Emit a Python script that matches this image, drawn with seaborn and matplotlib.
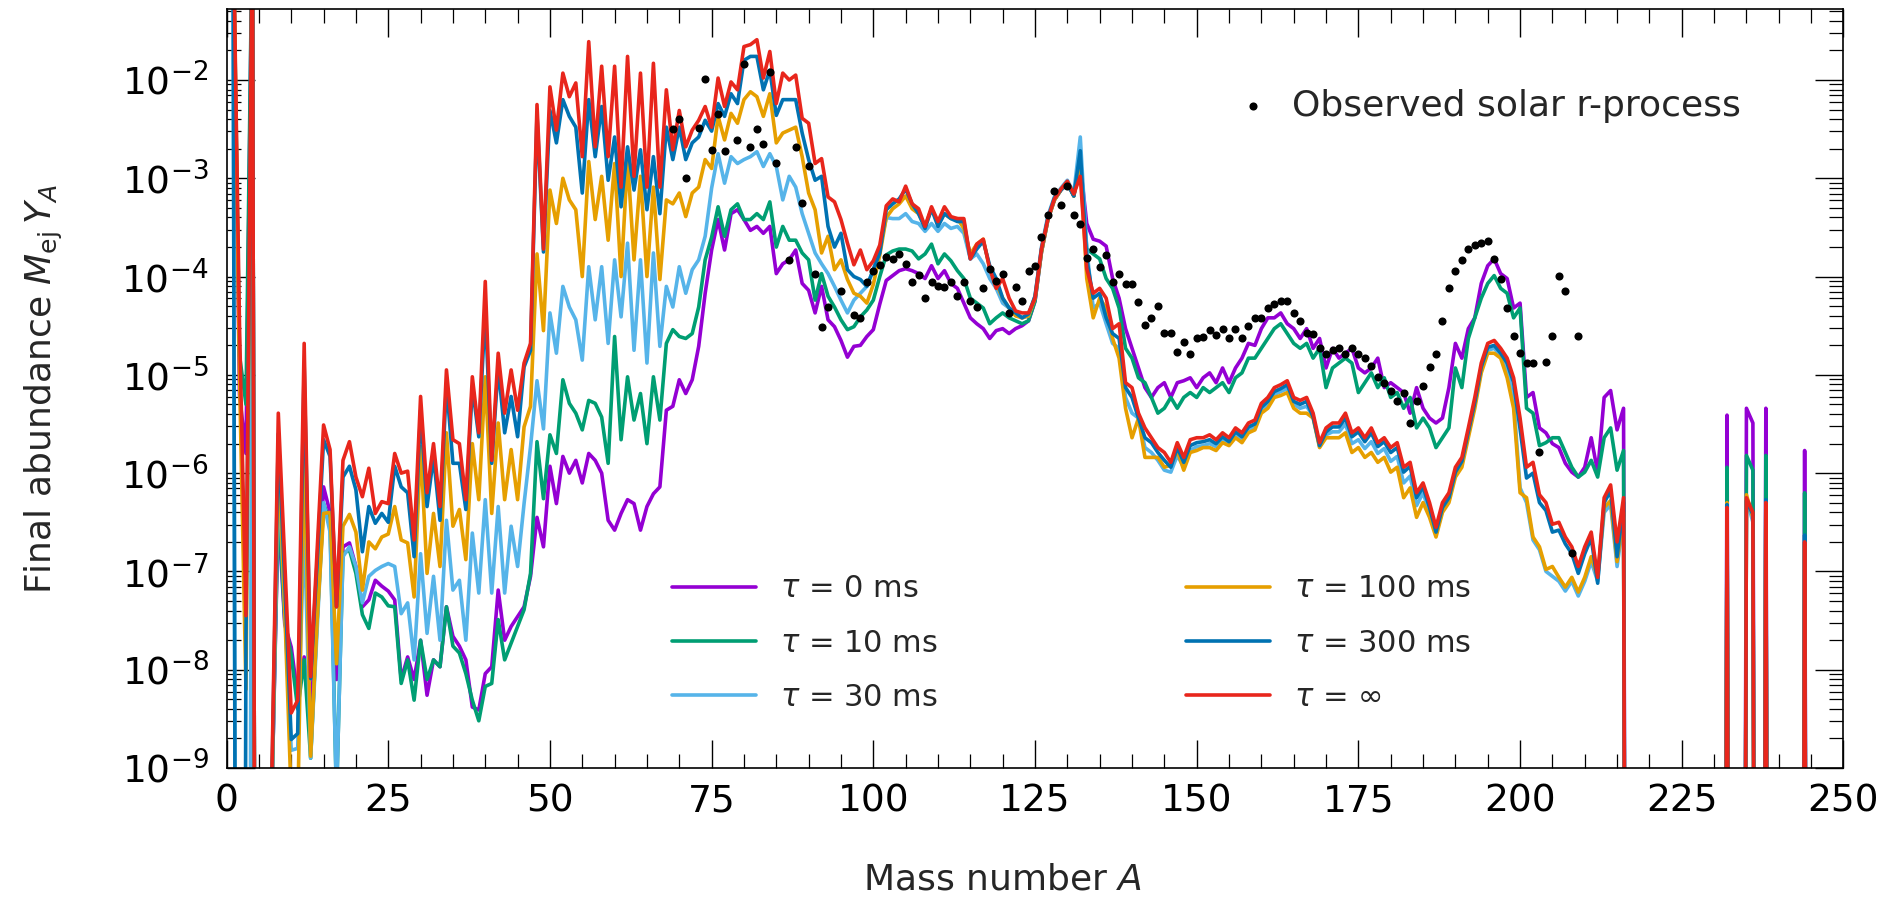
import numpy as np
import pandas as pd
import seaborn as sns
import matplotlib
matplotlib.use("Agg")
import matplotlib.pyplot as plt
from matplotlib.ticker import MultipleLocator, LogLocator, NullFormatter

# mass numbers A = 1..246
mass = np.arange(1, 247)

# log10 of final abundance per A
# (-30 = far below the plotted range, the line just drops out)
log_tau_0 = [
    -0.3, -5.2, -5.8, -0.3, -30, -30, -9.3, -6.4, -7.54, -7.77,
    -8.27, -7.87, -8.5, -7.4, -6.14, -6.40, -8.10, -6.75, -6.71, -6.95,
    -7.36, -7.29, -7.09, -7.15, -7.20, -7.29, -8.10, -7.87, -8.10, -7.70,
    -8.26, -7.90, -7.97, -7.36, -7.66, -7.76, -7.90, -8.38, -8.41, -8.04,
    -7.97, -7.19, -7.70, -7.56, -7.46, -7.36, -7.05, -6.45, -6.75, -5.93,
    -6.31, -5.83, -6.00, -5.87, -6.10, -5.80, -5.87, -6.00, -6.48, -6.58,
    -6.41, -6.27, -6.31, -6.58, -6.34, -6.21, -6.14, -5.36, -5.32, -5.05,
    -5.19, -5.05, -4.71, -4.17, -3.73, -3.42, -3.73, -3.36, -3.32, -3.42,
    -3.53, -3.49, -3.56, -3.49, -3.97, -3.87, -3.83, -3.73, -4.07, -4.14,
    -4.37, -4.10, -4.44, -4.51, -4.65, -4.82, -4.71, -4.70, -4.61, -4.54,
    -4.28, -4.04, -3.99, -3.94, -3.92, -3.94, -3.97, -4.02, -3.89, -4.02,
    -3.94, -4.07, -4.12, -4.27, -4.42, -4.48, -4.53, -4.63, -4.55, -4.53,
    -4.58, -4.53, -4.50, -4.45, -4.25, -3.75, -3.42, -3.22, -3.12, -3.05,
    -3.18, -2.86, -3.46, -3.62, -3.64, -3.69, -4.02, -4.22, -4.53, -4.73,
    -4.93, -5.13, -5.23, -5.13, -5.08, -5.23, -5.08, -5.06, -5.03, -5.13,
    -5.03, -4.98, -5.08, -4.93, -5.08, -4.93, -4.83, -4.68, -4.70, -4.53,
    -4.42, -4.42, -4.37, -4.48, -4.53, -4.63, -4.53, -4.73, -4.63, -4.93,
    -4.73, -4.83, -4.78, -4.73, -4.93, -4.98, -4.93, -4.83, -5.13, -5.08,
    -5.13, -5.18, -5.39, -5.13, -5.34, -5.44, -5.49, -5.44, -5.13, -4.68,
    -4.83, -4.53, -4.42, -4.07, -3.89, -3.82, -3.97, -4.02, -4.32, -4.27,
    -5.23, -5.18, -5.54, -5.59, -5.70, -5.74, -5.90, -5.99, -6.04, -5.94,
    -5.64, -5.99, -5.23, -5.16, -5.56, -5.34, -30, -30, -30, -30,
    -30, -30, -30, -30, -30, -30, -30, -30, -30, -30,
    -30, -5.41, -30, -30, -5.34, -5.49, -30, -5.34, -30, -30,
    -30, -30, -30, -5.77, -30, -30,
]
log_tau_10 = [
    -0.3, -4.8, -5.3, -0.3, -30, -30, -9.3, -6.3, -7.5, -7.85,
    -8.40, -7.90, -8.9, -7.5, -6.31, -6.50, -9.3, -6.82, -6.78, -7.02,
    -7.44, -7.58, -7.22, -7.26, -7.35, -7.36, -8.14, -7.90, -8.31, -7.70,
    -8.10, -7.90, -7.97, -7.36, -7.76, -7.83, -8.04, -8.31, -8.52, -8.17,
    -8.14, -7.49, -7.90, -7.73, -7.56, -7.39, -7.02, -5.68, -6.26, -5.61,
    -5.80, -5.05, -5.29, -5.39, -5.56, -5.26, -5.29, -5.43, -5.90, -4.61,
    -5.66, -5.02, -5.46, -5.19, -5.70, -5.02, -5.46, -4.68, -4.54, -4.61,
    -4.63, -4.58, -4.31, -3.83, -3.60, -3.29, -3.59, -3.32, -3.26, -3.42,
    -3.42, -3.36, -3.42, -3.24, -3.70, -3.49, -3.63, -3.63, -3.76, -3.83,
    -4.24, -3.97, -4.20, -4.31, -4.44, -4.54, -4.51, -4.41, -4.34, -4.24,
    -4.00, -3.78, -3.74, -3.72, -3.72, -3.74, -3.82, -3.77, -3.67, -3.87,
    -3.77, -3.84, -3.94, -4.02, -4.22, -4.27, -4.32, -4.48, -4.42, -4.37,
    -4.42, -4.45, -4.48, -4.45, -4.25, -3.75, -3.42, -3.22, -3.12, -3.05,
    -3.18, -2.80, -3.72, -3.77, -3.82, -4.02, -4.12, -4.32, -4.73, -4.83,
    -5.03, -5.08, -5.23, -5.39, -5.34, -5.23, -5.34, -5.23, -5.18, -5.23,
    -5.13, -5.18, -5.13, -5.08, -5.18, -5.03, -4.98, -4.83, -4.83, -4.73,
    -4.63, -4.53, -4.48, -4.58, -4.68, -4.73, -4.68, -4.83, -4.73, -5.13,
    -4.93, -4.88, -4.83, -4.88, -5.18, -5.08, -4.98, -5.13, -5.03, -5.23,
    -5.18, -5.34, -5.23, -5.54, -5.44, -5.54, -5.74, -5.64, -5.54, -4.93,
    -5.13, -4.63, -4.42, -4.22, -4.07, -3.99, -4.12, -4.17, -4.42, -4.32,
    -5.34, -5.39, -5.72, -5.69, -5.64, -5.64, -5.79, -5.94, -6.04, -5.99,
    -5.87, -6.04, -5.64, -5.54, -5.97, -5.77, -30, -30, -30, -30,
    -30, -30, -30, -30, -30, -30, -30, -30, -30, -30,
    -30, -5.94, -30, -30, -5.82, -5.97, -30, -5.82, -30, -30,
    -30, -30, -30, -6.20, -30, -30,
]
log_tau_30 = [
    -0.3, -30, -30, -0.3, -30, -30, -9.4, -6.0, -7.4, -8.82,
    -8.80, -6.5, -8.9, -7.6, -6.30, -6.60, -9.3, -6.85, -6.75, -6.95,
    -7.32, -7.05, -6.99, -6.95, -6.92, -6.95, -7.43, -7.32, -7.90, -6.82,
    -7.63, -7.05, -7.70, -6.48, -7.19, -7.09, -7.70, -6.61, -7.22, -6.27,
    -7.22, -6.34, -7.22, -6.54, -6.95, -6.31, -5.73, -5.06, -5.55, -4.37,
    -4.78, -4.10, -4.31, -4.44, -4.85, -3.90, -4.44, -3.90, -4.68, -3.83,
    -4.41, -3.66, -4.75, -3.83, -4.88, -3.76, -4.71, -4.10, -4.31, -3.90,
    -4.17, -3.93, -3.83, -3.59, -3.10, -2.75, -3.05, -2.78, -2.85, -2.81,
    -2.78, -2.73, -2.88, -2.75, -2.88, -3.22, -2.98, -3.09, -3.36, -3.56,
    -3.76, -3.87, -3.97, -4.10, -4.24, -4.37, -4.24, -4.17, -4.10, -3.93,
    -3.72, -3.40, -3.41, -3.41, -3.36, -3.44, -3.46, -3.54, -3.46, -3.54,
    -3.46, -3.51, -3.49, -3.56, -3.82, -3.77, -3.87, -4.02, -4.12, -4.27,
    -4.32, -4.37, -4.42, -4.40, -4.20, -3.70, -3.38, -3.19, -3.10, -3.02,
    -3.15, -2.58, -3.72, -4.32, -4.27, -4.48, -4.68, -4.73, -5.23, -5.39,
    -5.44, -5.74, -5.79, -5.87, -5.97, -5.99, -5.82, -5.94, -5.77, -5.73,
    -5.72, -5.70, -5.73, -5.66, -5.70, -5.61, -5.66, -5.56, -5.53, -5.36,
    -5.31, -5.20, -5.17, -5.14, -5.30, -5.34, -5.32, -5.42, -5.73, -5.61,
    -5.58, -5.58, -5.50, -5.70, -5.66, -5.75, -5.68, -5.80, -5.75, -5.88,
    -5.83, -6.10, -6.03, -6.33, -6.20, -6.40, -6.62, -6.38, -6.27, -6.00,
    -5.90, -5.60, -5.30, -4.95, -4.75, -4.73, -4.80, -4.95, -5.25, -6.15,
    -6.30, -6.68, -6.78, -7.00, -7.05, -7.10, -7.20, -7.10, -7.25, -7.10,
    -6.90, -7.10, -6.40, -6.32, -6.95, -6.45, -30, -30, -30, -30,
    -30, -30, -30, -30, -30, -30, -30, -30, -30, -30,
    -30, -6.32, -30, -30, -6.25, -6.50, -30, -6.32, -30, -30,
    -30, -30, -30, -6.70, -30, -30,
]
log_tau_100 = [
    -0.3, -5.0, -8.2, -0.3, -30, -30, -9.3, -5.8, -7.4, -9.3,
    -9.5, -5.6, -8.88, -7.5, -6.41, -6.40, -7.94, -6.54, -6.42, -6.60,
    -7.19, -6.70, -6.77, -6.65, -6.62, -6.34, -6.68, -6.71, -7.26, -5.73,
    -7.02, -6.41, -6.95, -5.59, -6.54, -6.37, -6.88, -5.70, -6.27, -5.02,
    -6.41, -5.49, -6.27, -5.76, -6.27, -5.53, -5.32, -3.77, -4.55, -3.12,
    -3.46, -3.00, -3.22, -3.32, -4.00, -2.83, -3.42, -2.98, -3.63, -2.85,
    -4.00, -2.81, -3.83, -2.98, -4.00, -3.09, -4.03, -3.22, -3.26, -3.15,
    -3.39, -3.15, -3.09, -2.81, -2.90, -2.37, -2.61, -2.34, -2.44, -2.20,
    -2.12, -2.17, -2.37, -2.14, -2.64, -2.54, -2.51, -2.48, -2.78, -3.15,
    -3.32, -3.76, -3.59, -3.93, -3.83, -4.03, -4.17, -4.20, -4.27, -4.08,
    -3.78, -3.40, -3.31, -3.26, -3.18, -3.31, -3.36, -3.49, -3.31, -3.46,
    -3.36, -3.41, -3.41, -3.51, -3.77, -3.67, -3.62, -3.92, -4.07, -4.22,
    -4.32, -4.40, -4.42, -4.40, -4.22, -3.75, -3.42, -3.22, -3.12, -3.04,
    -3.18, -2.85, -4.02, -4.42, -4.22, -4.32, -4.63, -4.83, -5.34, -5.64,
    -5.44, -5.84, -5.84, -5.84, -5.94, -5.92, -5.77, -5.97, -5.79, -5.77,
    -5.74, -5.74, -5.77, -5.69, -5.72, -5.64, -5.69, -5.59, -5.56, -5.39,
    -5.34, -5.23, -5.21, -5.18, -5.34, -5.39, -5.39, -5.44, -5.74, -5.64,
    -5.64, -5.64, -5.59, -5.79, -5.74, -5.84, -5.79, -5.89, -5.84, -5.99,
    -5.94, -6.25, -6.15, -6.45, -6.30, -6.45, -6.65, -6.40, -6.30, -6.04,
    -5.94, -5.64, -5.34, -4.98, -4.78, -4.78, -4.83, -5.03, -5.34, -6.20,
    -6.25, -6.65, -6.75, -6.98, -6.95, -7.06, -7.16, -7.06, -7.21, -7.06,
    -6.85, -7.06, -6.35, -6.28, -6.90, -6.40, -30, -30, -30, -30,
    -30, -30, -30, -30, -30, -30, -30, -30, -30, -30,
    -30, -6.30, -30, -30, -6.22, -6.45, -30, -6.32, -30, -30,
    -30, -30, -30, -6.72, -30, -30,
]
log_tau_300 = [
    -0.3, -30, -7.67, -0.3, -30, -30, -9.2, -5.6, -7.1, -8.71,
    -8.65, -4.9, -8.09, -6.9, -5.66, -5.83, -7.36, -6.04, -5.93, -6.17,
    -6.80, -6.34, -6.51, -6.41, -6.50, -5.93, -6.14, -6.20, -6.85, -5.36,
    -6.34, -5.83, -6.48, -5.09, -5.90, -5.90, -6.37, -5.12, -5.63, -4.34,
    -5.90, -4.92, -5.59, -5.22, -5.63, -4.92, -4.75, -2.35, -3.75, -2.31,
    -2.64, -2.20, -2.37, -2.48, -3.15, -2.20, -2.78, -2.27, -3.02, -2.58,
    -3.29, -2.68, -3.12, -2.71, -3.32, -2.78, -3.36, -2.48, -2.81, -2.48,
    -2.81, -2.64, -2.58, -2.41, -2.52, -2.24, -2.37, -2.14, -2.24, -1.80,
    -1.76, -1.76, -2.10, -1.90, -2.36, -2.20, -2.20, -2.20, -2.54, -2.81,
    -3.02, -2.98, -3.49, -3.70, -3.56, -3.93, -4.00, -4.03, -4.10, -3.93,
    -3.76, -3.32, -3.26, -3.21, -3.11, -3.26, -3.36, -3.51, -3.31, -3.49,
    -3.36, -3.41, -3.44, -3.44, -3.82, -3.72, -3.64, -3.89, -4.02, -4.22,
    -4.32, -4.37, -4.42, -4.38, -4.20, -3.72, -3.40, -3.20, -3.12, -3.05,
    -3.18, -2.72, -3.82, -4.22, -4.17, -4.42, -4.58, -4.63, -5.13, -5.23,
    -5.44, -5.64, -5.69, -5.79, -5.87, -5.94, -5.74, -5.89, -5.72, -5.69,
    -5.68, -5.66, -5.70, -5.63, -5.68, -5.58, -5.63, -5.53, -5.50, -5.33,
    -5.27, -5.17, -5.14, -5.10, -5.27, -5.30, -5.27, -5.43, -5.72, -5.58,
    -5.53, -5.53, -5.44, -5.63, -5.58, -5.68, -5.59, -5.73, -5.68, -5.79,
    -5.74, -5.99, -5.93, -6.25, -6.14, -6.35, -6.60, -6.35, -6.25, -5.99,
    -5.88, -5.58, -5.28, -4.92, -4.72, -4.70, -4.78, -4.88, -5.08, -5.55,
    -6.05, -6.00, -6.30, -6.38, -6.60, -6.58, -6.72, -6.82, -7.02, -6.82,
    -6.66, -7.12, -6.30, -6.18, -6.85, -6.30, -30, -30, -30, -30,
    -30, -30, -30, -30, -30, -30, -30, -30, -30, -30,
    -30, -6.32, -30, -30, -6.28, -6.42, -30, -6.27, -30, -30,
    -30, -30, -30, -6.63, -30, -30,
]
log_tau_inf = [
    -0.3, -4.5, -7.45, -0.3, -30, -30, -9.1, -5.39, -6.9, -8.44,
    -8.31, -4.68, -8.07, -6.8, -5.51, -5.76, -7.36, -5.87, -5.68, -6.04,
    -6.24, -5.95, -6.41, -6.29, -6.31, -5.80, -6.00, -5.98, -6.68, -5.22,
    -6.20, -5.70, -6.34, -4.95, -5.66, -5.70, -6.27, -5.02, -5.59, -4.05,
    -5.87, -4.78, -5.39, -4.95, -5.36, -4.88, -4.68, -2.25, -3.72, -2.07,
    -2.51, -1.93, -2.17, -2.03, -2.78, -1.61, -2.68, -1.86, -2.78, -1.86,
    -3.09, -1.76, -2.98, -1.93, -3.09, -1.83, -3.09, -2.10, -2.71, -2.31,
    -2.68, -2.51, -2.41, -2.27, -2.48, -1.98, -2.27, -2.02, -2.10, -1.66,
    -1.64, -1.59, -1.98, -1.71, -2.24, -1.93, -2.00, -1.95, -2.39, -2.44,
    -2.85, -2.80, -3.19, -3.24, -3.42, -3.66, -3.88, -3.73, -3.93, -3.84,
    -3.68, -3.28, -3.21, -3.24, -3.08, -3.26, -3.31, -3.49, -3.29, -3.44,
    -3.29, -3.39, -3.41, -3.41, -3.82, -3.67, -3.62, -3.92, -4.12, -4.02,
    -4.22, -4.35, -4.37, -4.37, -4.22, -3.72, -3.41, -3.21, -3.11, -3.03,
    -3.16, -2.98, -3.92, -4.17, -4.12, -4.22, -4.53, -4.48, -5.08, -5.13,
    -5.39, -5.54, -5.64, -5.74, -5.79, -5.89, -5.69, -5.84, -5.66, -5.64,
    -5.64, -5.61, -5.66, -5.59, -5.64, -5.54, -5.59, -5.49, -5.46, -5.29,
    -5.23, -5.13, -5.10, -5.06, -5.23, -5.26, -5.23, -5.39, -5.69, -5.54,
    -5.49, -5.49, -5.39, -5.59, -5.54, -5.64, -5.54, -5.69, -5.64, -5.74,
    -5.69, -5.94, -5.89, -6.20, -6.10, -6.30, -6.55, -6.30, -6.20, -5.94,
    -5.84, -5.54, -5.23, -4.88, -4.68, -4.65, -4.73, -4.83, -5.03, -5.44,
    -5.94, -5.89, -6.22, -6.30, -6.52, -6.50, -6.65, -6.75, -6.95, -6.75,
    -6.60, -7.06, -6.25, -6.12, -6.70, -6.25, -30, -30, -30, -30,
    -30, -30, -30, -30, -30, -30, -30, -30, -30, -30,
    -30, -6.35, -30, -30, -6.25, -6.40, -30, -6.30, -30, -30,
    -30, -30, -30, -6.70, -30, -30,
]

# observed solar r-process abundances
solar_mass = [69, 70, 71, 73, 74, 75, 76, 77, 79, 80, 81, 82, 83, 84, 85,
              87, 88, 89, 90, 91, 92, 93, 95, 97, 98, 99, 100, 101, 102] + list(range(103, 210))
solar_log = [
    -2.50, -2.40, -3.00, -2.49, -1.99, -2.71, -2.35, -2.72, -2.61, -1.84,
    -2.68, -2.50, -2.65, -1.92, -2.84, -3.83, -2.68, -3.25, -2.88, -3.97,
    -4.51, -4.31, -4.15, -4.39, -4.42, -4.06, -3.94, -3.88, -3.80,
    -3.82, -3.77, -3.87, -4.06, -3.98, -4.22, -4.06, -4.10, -4.11, -4.06,
    -4.20, -4.06, -4.25, -4.31, -4.12, -3.92, -4.05, -3.97, -4.37, -4.11,
    -4.25, -3.94, -3.89, -3.60, -3.37, -3.13, -3.27, -3.08, -3.37, -3.47,
    -3.81, -3.72, -3.90, -3.78, -4.06, -3.97, -4.08, -4.08, -4.26, -4.49,
    -4.42, -4.30, -4.57, -4.57, -4.77, -4.67, -4.79, -4.63, -4.62, -4.54,
    -4.59, -4.53, -4.63, -4.53, -4.63, -4.50, -4.42, -4.42, -4.32, -4.28,
    -4.25, -4.25, -4.37, -4.45, -4.57, -4.58, -4.73, -4.79, -4.75, -4.73,
    -4.79, -4.73, -4.79, -4.83, -4.91, -5.02, -5.08, -5.16, -5.27, -5.18,
    -5.49, -5.27, -5.11, -4.92, -4.79, -4.45, -4.12, -3.94, -3.83, -3.72,
    -3.68, -3.66, -3.64, -3.82, -4.02, -4.32, -4.60, -4.78, -4.88, -4.88,
    -5.78, -4.87, -4.60, -3.99, -4.15, -6.81, -4.60,
]

labels = [r"$\tau$ = 0 ms", r"$\tau$ = 10 ms", r"$\tau$ = 30 ms",
          r"$\tau$ = 100 ms", r"$\tau$ = 300 ms", r"$\tau$ = $\infty$"]
colors = ["#9400d3", "#009e73", "#56b4e9", "#e69f00", "#0072b2", "#e8261c"]
curves = [log_tau_0, log_tau_10, log_tau_30, log_tau_100, log_tau_300, log_tau_inf]

sns.set_theme(style="ticks")
plt.rcParams['font.family'] = ['DejaVu Sans']
plt.rcParams['mathtext.fontset'] = 'dejavusans'

fig = plt.figure(figsize=(18.88, 9.05), dpi=100)
ax = fig.add_axes([0.120, 0.1514, 0.8564, 0.8386])

for lab, col, vals in zip(labels, colors, curves):
    sns.lineplot(x=mass, y=10.0 ** np.array(vals), color=col, lw=2.6,
                 label=lab, estimator=None, sort=False, legend=False, ax=ax)

sns.scatterplot(x=solar_mass, y=10.0 ** np.array(solar_log), color="black",
                s=34, linewidth=0, label="Observed solar r-process",
                legend=False, zorder=5, ax=ax)

ax.set_yscale("log")
ax.set_xlim(0, 250)
ax.set_ylim(1e-9, 0.0527)

ax.xaxis.set_major_locator(MultipleLocator(25))
ax.xaxis.set_minor_locator(MultipleLocator(5))
ax.yaxis.set_major_locator(LogLocator(base=10, numticks=30))
ax.yaxis.set_minor_locator(LogLocator(base=10, subs=np.arange(2, 10), numticks=30))
ax.yaxis.set_minor_formatter(NullFormatter())

ax.tick_params(which="both", direction="in", top=True, right=True, colors="black")
ax.tick_params(which="major", length=20, width=1.0, labelsize=27)
ax.tick_params(which="minor", length=10, width=0.9)
ax.tick_params(axis="x", which="major", pad=11)
ax.tick_params(axis="y", which="major", pad=13)
for s in ax.spines.values():
    s.set_color("black")
    s.set_linewidth(1.2)

ax.set_xlabel("Mass number $A$", fontsize=26)
ax.set_ylabel(r"Final abundance $M_\mathrm{ej}\,Y_A$", fontsize=26)
ax.xaxis.set_label_coords(0.48, -0.125)
ax.yaxis.set_label_coords(-0.100, 0.5)

handles, labs = ax.get_legend_handles_labels()
leg_kw = dict(frameon=False, fontsize=22, handlelength=2.75, handletextpad=0.8,
              labelspacing=0.83, borderpad=0, borderaxespad=0, loc="upper left")
leg1 = ax.legend(handles[0:3], labs[0:3], bbox_to_anchor=(0.2755, 0.255), **leg_kw)
ax.add_artist(leg1)
leg2 = ax.legend(handles[3:6], labs[3:6], bbox_to_anchor=(0.5933, 0.255), **leg_kw)
ax.add_artist(leg2)
ax.legend(handles[6:], labs[6:], bbox_to_anchor=(0.626, 0.895), frameon=False,
          fontsize=26, handlelength=0.8, handletextpad=0.68, borderpad=0,
          borderaxespad=0, loc="upper left")

fig.savefig("out.png", dpi=100)
